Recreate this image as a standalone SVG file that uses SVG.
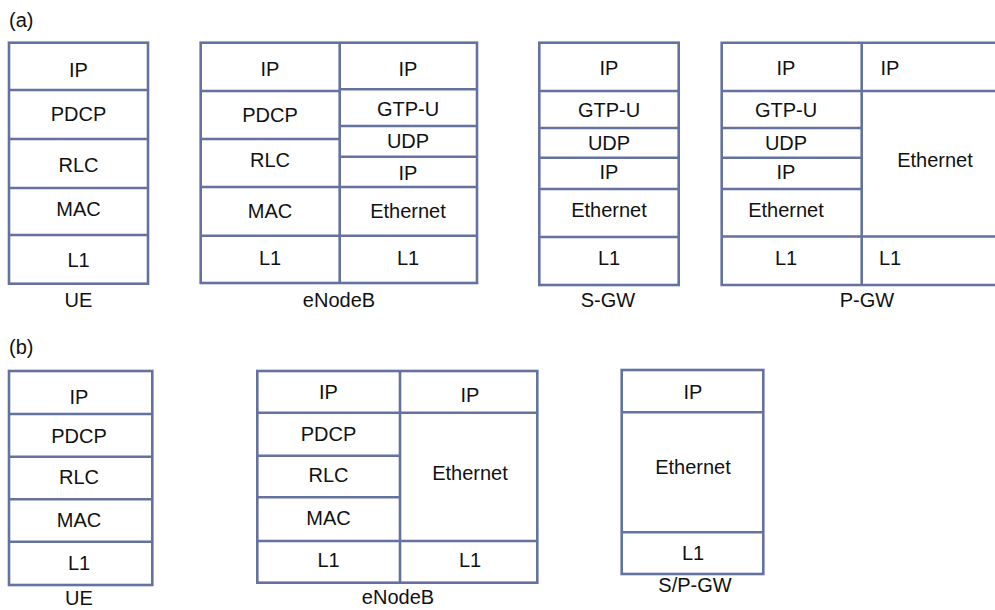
<svg xmlns="http://www.w3.org/2000/svg" width="995" height="610" viewBox="0 0 995 610">
<style>
  .box { fill: #ffffff; stroke: #6472a0; stroke-width: 2.6; }
  .ln { stroke: #6472a0; stroke-width: 2.6; fill: none; }
  text { font-family: "Liberation Sans", Arial, sans-serif; font-size: 20px; fill: #111111; text-anchor: middle; }
  .tag { text-anchor: start; font-size: 20px; }
</style>
<rect width="995" height="610" fill="#ffffff"/>
<text class="tag" x="9" y="27">(a)</text>
<text class="tag" x="9" y="354">(b)</text>

<g id="a-ue">
  <rect class="box" x="9" y="42.7" width="139" height="241"/>
  <path class="ln" d="M9 90H148M9 139H148M9 188H148M9 235H148"/>
  <text x="78.5" y="77">IP</text>
  <text x="78.5" y="121">PDCP</text>
  <text x="78.5" y="171.5">RLC</text>
  <text x="78.5" y="216">MAC</text>
  <text x="78.5" y="267">L1</text>
  <text x="78.5" y="307">UE</text>
</g>

<g id="a-enodeb">
  <rect class="box" x="200.7" y="42.7" width="276.3" height="240.3"/>
  <path class="ln" d="M339.7 42.7V283M200.7 91H339.7M200.7 139H339.7M339.7 89.3H477M339.7 126H477M339.7 156.7H477M200.7 187H477M200.7 235.7H477"/>
  <text x="270" y="76">IP</text>
  <text x="270" y="121.5">PDCP</text>
  <text x="270" y="166.5">RLC</text>
  <text x="270" y="217.5">MAC</text>
  <text x="270" y="264.5">L1</text>
  <text x="408" y="75.5">IP</text>
  <text x="408" y="116">GTP-U</text>
  <text x="408" y="147.6">UDP</text>
  <text x="408" y="179.5">IP</text>
  <text x="408" y="217.5">Ethernet</text>
  <text x="408" y="264.5">L1</text>
  <text x="339" y="307">eNodeB</text>
</g>

<g id="a-sgw">
  <rect class="box" x="539.3" y="42.7" width="139.4" height="242.3"/>
  <path class="ln" d="M539.3 91H678.7M539.3 128H678.7M539.3 157.7H678.7M539.3 189H678.7M539.3 237H678.7"/>
  <text x="609" y="75">IP</text>
  <text x="609" y="117">GTP-U</text>
  <text x="609" y="150">UDP</text>
  <text x="609" y="178.7">IP</text>
  <text x="609" y="217">Ethernet</text>
  <text x="609" y="265.3">L1</text>
  <text x="608" y="307">S-GW</text>
</g>

<g id="a-pgw">
  <path class="ln" d="M996 42.7H721.7V285H996M861.7 42.7V285M721.7 91H996M721.7 128H861.7M721.7 157.7H861.7M721.7 189H861.7M721.7 236.5H996"/>
  <text x="786" y="75">IP</text>
  <text x="786" y="117">GTP-U</text>
  <text x="786" y="150">UDP</text>
  <text x="786" y="178.7">IP</text>
  <text x="786" y="217">Ethernet</text>
  <text x="786" y="265.3">L1</text>
  <text x="890" y="75">IP</text>
  <text x="935" y="167">Ethernet</text>
  <text x="890" y="265.3">L1</text>
  <text x="867" y="307">P-GW</text>
</g>

<g id="b-ue">
  <rect class="box" x="9" y="371" width="143.3" height="214"/>
  <path class="ln" d="M9 414H152.3M9 456.7H152.3M9 499.3H152.3M9 541.7H152.3"/>
  <text x="79" y="403.7">IP</text>
  <text x="79" y="443">PDCP</text>
  <text x="79" y="483.7">RLC</text>
  <text x="79" y="527">MAC</text>
  <text x="79" y="570.3">L1</text>
  <text x="79" y="605">UE</text>
</g>

<g id="b-enodeb">
  <rect class="box" x="257.3" y="371" width="280" height="211.7"/>
  <path class="ln" d="M400 371V582.7M257.3 412.7H537.3M257.3 455.7H400M257.3 497.3H400M257.3 541H537.3"/>
  <text x="328.5" y="398.7">IP</text>
  <text x="328.5" y="441">PDCP</text>
  <text x="328.5" y="482">RLC</text>
  <text x="328.5" y="525">MAC</text>
  <text x="328.5" y="567">L1</text>
  <text x="470" y="402">IP</text>
  <text x="470" y="480.3">Ethernet</text>
  <text x="470" y="567">L1</text>
  <text x="398" y="604">eNodeB</text>
</g>

<g id="b-spgw">
  <rect class="box" x="621.7" y="370" width="141.6" height="204"/>
  <path class="ln" d="M621.7 412.3H763.3M621.7 532.3H763.3"/>
  <text x="693" y="398.7">IP</text>
  <text x="693" y="474.3">Ethernet</text>
  <text x="693" y="560.3">L1</text>
  <text x="695" y="592">S/P-GW</text>
</g>

<g id="connectors"></g>
</svg>
